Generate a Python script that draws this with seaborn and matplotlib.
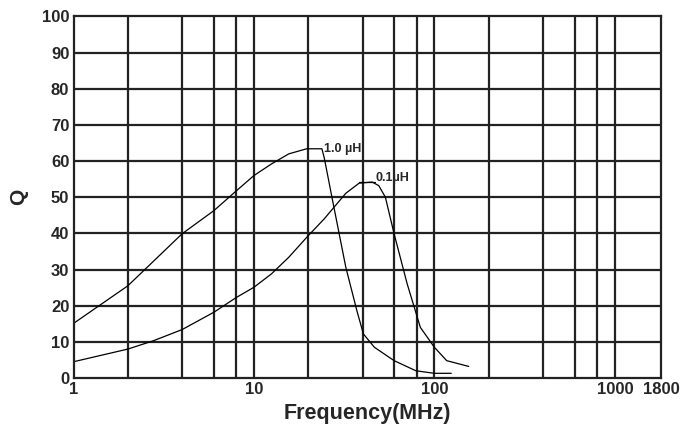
import numpy as np
import pandas as pd
import matplotlib
matplotlib.use("Agg")
import matplotlib.pyplot as plt
import seaborn as sns

# Q vs frequency
freq_10uh = [1, 2, 4, 6, 8, 10, 12.5, 15.6, 19.6, 23.8, 24.5, 27.3, 32.3, 37.2,
             40.4, 46.5, 59.8, 79, 100, 124]
q_10uh = [15.1, 25.5, 39.9, 46.3, 51.8, 56, 59.2, 62, 63.4, 63.4, 61, 49, 30.6,
          18.6, 12.2, 8.5, 4.8, 2.0, 1.3, 1.3]

freq_01uh = [1, 2, 2.77, 4, 6, 8, 10, 12.5, 15.6, 19.6, 24.5, 32.3, 38.3, 45.2,
             49.2, 53.5, 59.8, 70.7, 83.6, 100, 117, 155]
q_01uh = [4.5, 8, 10.3, 13.4, 18.2, 22.3, 25.1, 28.8, 33.4, 38.9, 44, 51.1, 53.9,
          54.2, 53.2, 50, 39.9, 26, 14, 8.5, 4.8, 3.2]

x_grid = [2, 4, 6, 8, 10, 20, 40, 60, 80, 100, 200, 400, 600, 800, 1000]
x_ticks = [1, 10, 100, 1000, 1800]
y_ticks = list(range(0, 101, 10))

sns.set_style("white")
plt.rcParams['font.family'] = ['Liberation Sans', 'DejaVu Sans']
plt.rcParams['font.weight'] = 'bold'

df = pd.concat([
    pd.DataFrame({'f': freq_10uh, 'Q': q_10uh, 'L': '1.0 µH'}),
    pd.DataFrame({'f': freq_01uh, 'Q': q_01uh, 'L': '0.1µH'}),
])

fig = plt.figure(figsize=(6.87, 4.33), dpi=100)
ax = fig.add_axes([0.107, 0.127, 0.855, 0.835])

sns.lineplot(data=df, x='f', y='Q', units='L', estimator=None, sort=False,
             color='black', linewidth=0.9, ax=ax, legend=False)

ax.set_xscale('log')
ax.set_xlim(1, 1800)
ax.set_ylim(0, 100)

for g in x_grid:
    ax.axvline(g, color='#222222', linewidth=1.6, zorder=0)
for y in y_ticks[1:-1]:
    ax.axhline(y, color='#222222', linewidth=1.6, zorder=0)

ax.set_xticks(x_ticks)
ax.set_xticklabels([str(t) for t in x_ticks])
ax.xaxis.set_minor_locator(matplotlib.ticker.NullLocator())
ax.set_yticks(y_ticks)
ax.tick_params(length=0, labelsize=12, pad=3)
for lab in ax.get_xticklabels() + ax.get_yticklabels():
    lab.set_fontweight('bold')

for s in ax.spines.values():
    s.set_color('#222222')
    s.set_linewidth(1.6)

ax.set_xlabel('Frequency(MHz)', fontsize=15.5, fontweight='bold', labelpad=4)
ax.set_ylabel('Q', fontsize=15, fontweight='bold', labelpad=10)

# curve labels
ax.text(24.5, 63.4, '1.0 µH', fontsize=9, fontweight='bold', va='center', ha='left')
ax.plot([38, 47], [54.2, 54.2], color='black', linewidth=0.9)
ax.text(47, 55.3, '0.1µH', fontsize=9, fontweight='bold', va='center', ha='left')

fig.savefig('out.png', dpi=100)
